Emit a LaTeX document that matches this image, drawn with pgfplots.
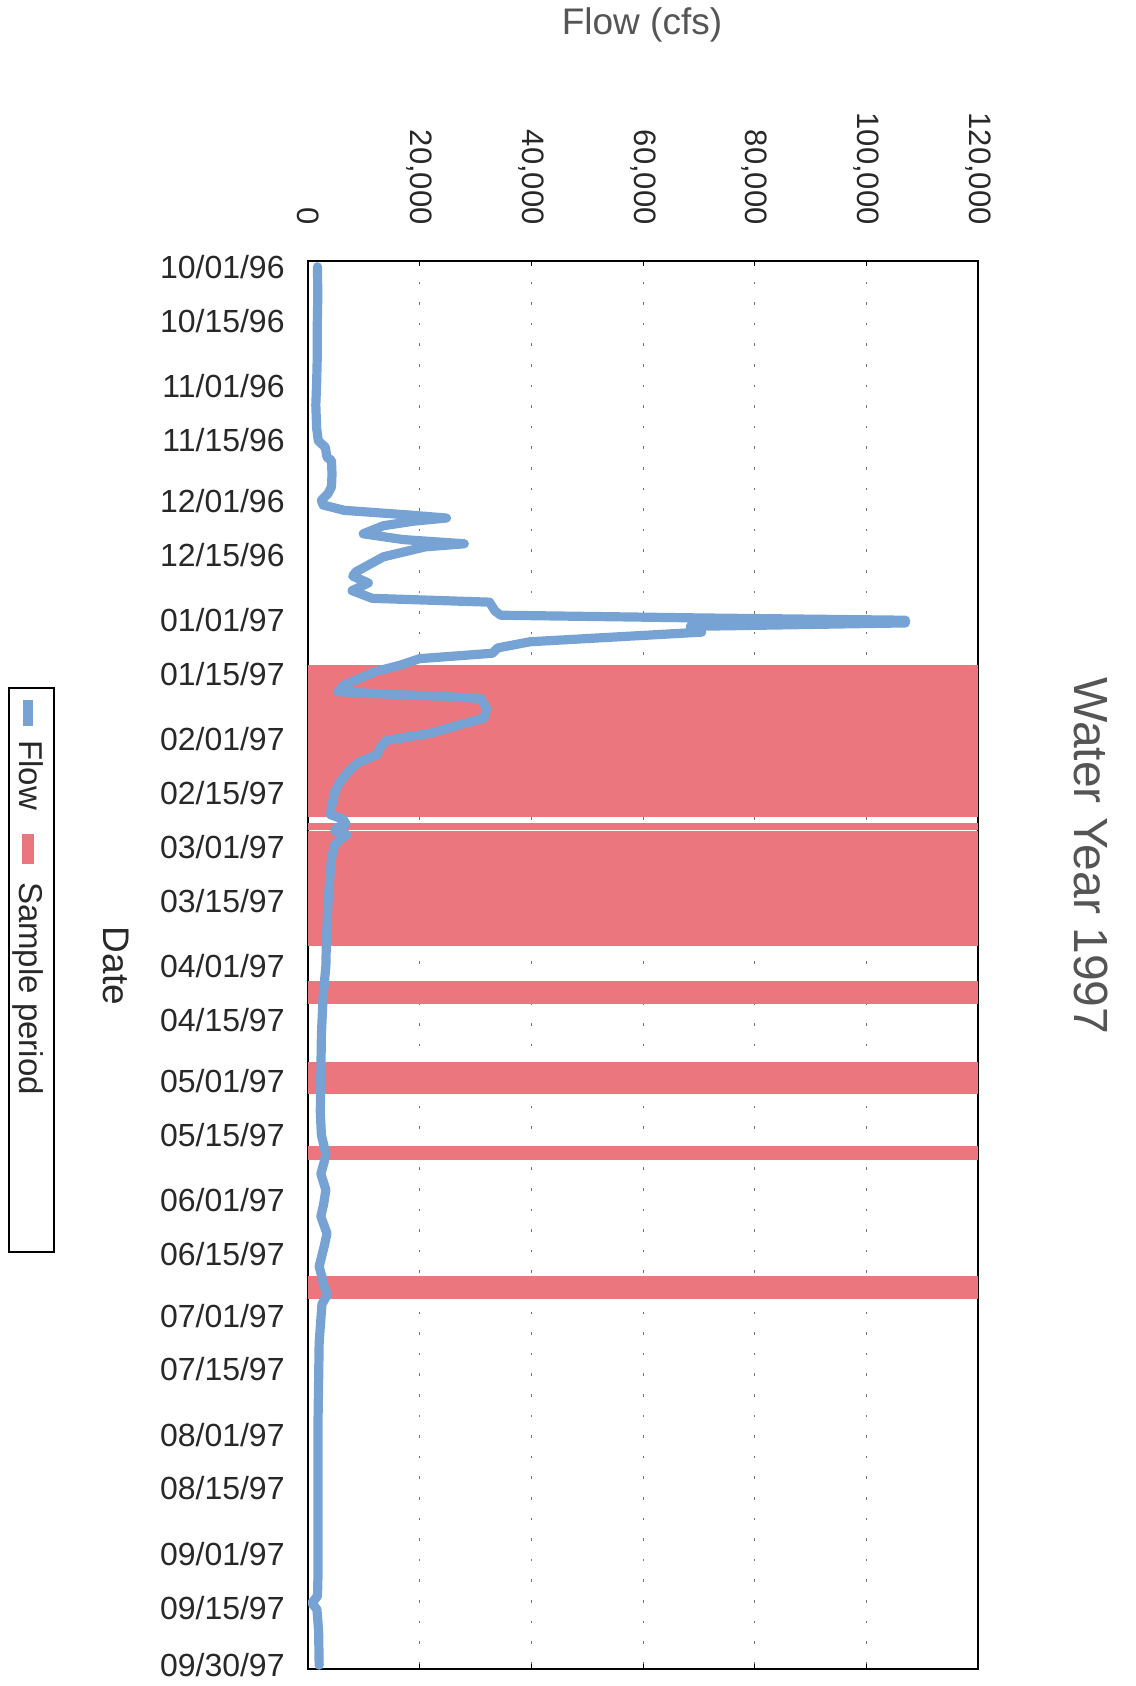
\documentclass[border=0pt]{standalone}
\usepackage{pgfplots}
\pgfplotsset{compat=1.18}
\usepackage{fontspec}
\setmainfont{Liberation Sans}
\definecolor{flowblue}{RGB}{118,163,212}
\definecolor{samplered}{RGB}{236,118,126}
\definecolor{txt}{RGB}{40,40,40}
\definecolor{lbl}{RGB}{85,85,85}
\newcommand\fs[1]{\fontsize{#1}{#1}\selectfont}
\pgfplotstableread{
day flow
0 1700
8 1750
16 1650
24 1650
30 1550
36 1400
42 1550
45.3 1850
47 3100
49.6 3400
50.4 4200
54 4300
57.3 4200
59 3600
60.8 2400
62 2700
63.4 6500
64.6 18000
65.4 24800
66.2 19000
67.4 13500
69.5 9900
71.0 17000
72.1 28000
72.9 21000
75.5 13500
79.4 8600
80.5 8000
82.3 10800
84.3 7900
86.3 11500
87.3 32500
89.6 33500
90.7 34500
91.4 70000
92.0 107000
92.7 107000
93.6 68500
95.1 70500
97.6 39800
99.2 34000
100.6 33000
102.0 20000
103.7 16500
105.4 12000
108.9 6400
110.6 5400
111.3 15000
111.8 24000
112.4 31000
115.0 32000
117.5 31500
119.5 26500
121.4 22000
123.3 14000
125 13000
127 12400
129 9000
131.4 7200
134 5800
136.6 4800
140 4300
142.6 4000
143.8 6300
145.0 6800
146.0 5200
146.8 4800
147.8 7000
148.8 6000
150.4 4800
154 4200
157.3 4000
165 3600
175 3300
182 3200
190 2700
200 2400
210 2300
220 2200
226 2400
230.9 3200
233 2900
236.1 2300
240.3 3200
244 2800
247.2 2300
251.6 3400
255 2900
260.2 2000
263 2500
265.4 2900
267.5 3500
270 2500
280 2000
300 1800
320 1800
340 1800
346 1700
347.8 700
349.5 1600
355 1900
364 2000
}\flowdata
\begin{document}
\begin{tikzpicture}
\path[use as bounding box] (0,0) rectangle (567.5pt,-843pt);
\begin{axis}[
  at={(154pt,-130.5pt)}, anchor=north west,
  scale only axis, width=335pt, height=704pt,
  xmin=0, xmax=120000, ymin=-1.5, ymax=365, y dir=reverse,
  scaled x ticks=false,
  xtick={0,20000,40000,60000,80000,100000,120000},
  xticklabels={0,{20,000},{40,000},{60,000},{80,000},{100,000},{120,000}},
  xticklabel pos=upper,
  xticklabel style={rotate=-90, anchor=east, inner xsep=18pt, inner ysep=0pt, font=\fs{15.5}, text=txt},
  ytick={0,14,31,45,61,75,92,106,123,137,151,165,182,196,212,226,243,257,273,287,304,318,335,349,364},
  yticklabels={10/01/96,10/15/96,11/01/96,11/15/96,12/01/96,12/15/96,01/01/97,01/15/97,02/01/97,02/15/97,03/01/97,03/15/97,04/01/97,04/15/97,05/01/97,05/15/97,06/01/97,06/15/97,07/01/97,07/15/97,08/01/97,08/15/97,09/01/97,09/15/97,09/30/97},
  yticklabel style={anchor=east, inner xsep=11.5pt, inner ysep=0pt, font=\fs{16}, text=txt},
  xmajorgrids,
  major grid style={black!55, line width=0.5pt, dash pattern=on 1.3pt off 9pt},
  tick align=inside, major tick length=2.5pt,
  xtick style={black, line width=0.5pt},
  ytick style={draw=none},
  axis line style={black, line width=1pt},
]
\addplot[fill=samplered, draw=none] coordinates {(0,103.7) (120000,103.7) (120000,111.35) (0,111.35)} --cycle;
\addplot[fill=samplered, draw=none] coordinates {(0,111.55) (120000,111.55) (120000,143.2) (0,143.2)} --cycle;
\addplot[fill=samplered, draw=none] coordinates {(0,144.8) (120000,144.8) (120000,146.7) (0,146.7)} --cycle;
\addplot[fill=samplered, draw=none] coordinates {(0,146.9) (120000,146.9) (120000,176.7) (0,176.7)} --cycle;
\addplot[fill=samplered, draw=none] coordinates {(0,186.0) (120000,186.0) (120000,191.8) (0,191.8)} --cycle;
\addplot[fill=samplered, draw=none] coordinates {(0,207.0) (120000,207.0) (120000,215.4) (0,215.4)} --cycle;
\addplot[fill=samplered, draw=none] coordinates {(0,228.9) (120000,228.9) (120000,232.5) (0,232.5)} --cycle;
\addplot[fill=samplered, draw=none] coordinates {(0,262.6) (120000,262.6) (120000,268.8) (0,268.8)} --cycle;
\addplot[flowblue, line width=4.6pt, line join=round, line cap=round] table[x=flow, y=day] {\flowdata};
\end{axis}
% axis titles
\node[font=\fs{18.5}, text=lbl] at (321pt,-12.5pt) {Flow (cfs)};
\node[font=\fs{18.5}, text=txt, rotate=-90] at (58pt,-483pt) {Date};
\node[font=\fs{24}, text=lbl, rotate=-90] at (545.5pt,-428pt) {Water Year 1997};
% legend
\draw[black, line width=0.9pt] (4.3pt,-344pt) rectangle (26.9pt,-626pt);
\node[rotate=-90, anchor=west, inner sep=0pt, font=\fs{16.5}, text=txt] at (14pt,-350pt)
  {\textcolor{flowblue}{\rule[1.8pt]{13pt}{5pt}}\hspace{7pt}Flow\hspace{12pt}\textcolor{samplered}{\rule[1.3pt]{15pt}{6pt}}\hspace{9pt}Sample period};
\end{tikzpicture}
\end{document}
